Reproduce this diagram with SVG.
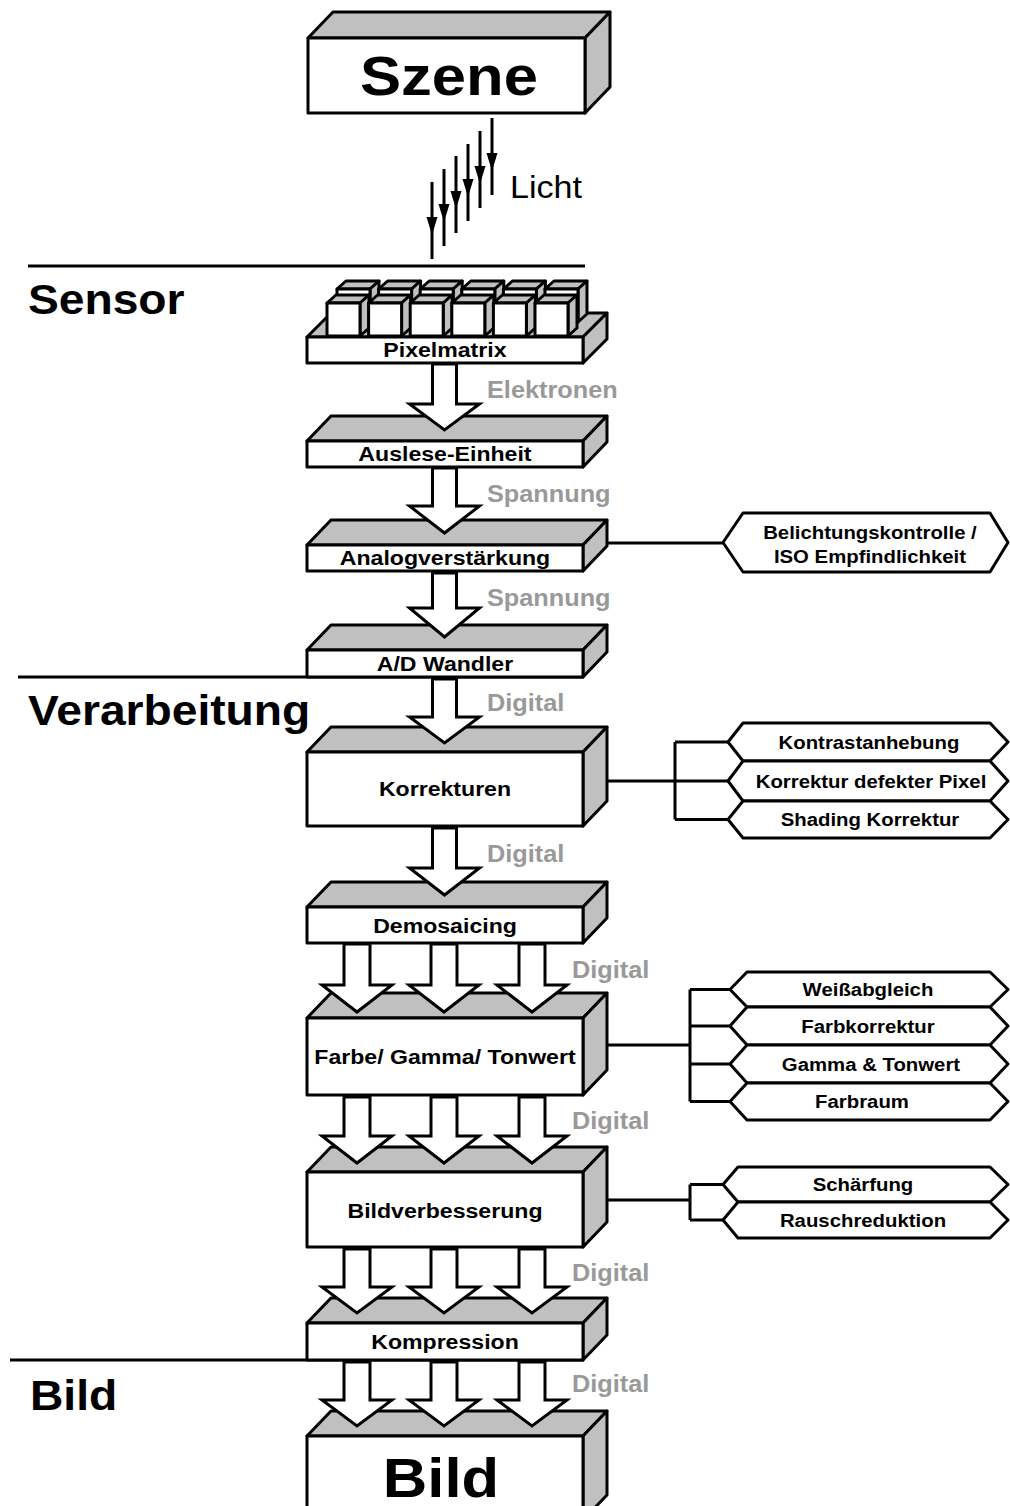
<svg xmlns="http://www.w3.org/2000/svg" xmlns:xlink="http://www.w3.org/1999/xlink" width="1010" height="1506" viewBox="0 0 1010 1506">
  <style>
    text { font-family: "Liberation Sans", Arial, sans-serif; font-weight: bold; fill: #000; transform-box: fill-box; transform: scaleX(1.1); }
    .c { text-anchor: middle; transform-origin: center; }
    .l { transform-origin: left; }
    .reg { font-weight: normal; }
    .box { font-size: 21px; }
    .side { font-size: 18.5px; }
    .sect { font-size: 42px; }
    .flow { font-size: 23px; fill: #999; }
    .face { fill: #fff; stroke: #000; stroke-width: 3; stroke-linejoin: round; }
    .shade { fill: #c0c0c0; stroke: #000; stroke-width: 3; stroke-linejoin: round; }
    .hex { fill: #fff; stroke: #000; stroke-width: 3; stroke-linejoin: round; }
    .wire { fill: none; stroke: #000; stroke-width: 3; }
    .big { fill: #fff; stroke: #000; stroke-width: 3; stroke-linejoin: miter; }
    .rule { stroke: #000; stroke-width: 3; }
  </style>
  <defs>
    <g id="ray">
      <line x1="0" y1="0" x2="0" y2="77" stroke="#000" stroke-width="3"/>
      <polygon points="-5.5,35 5.5,35 0,53" fill="#000"/>
    </g>
    <g id="cube">
      <polygon class="shade" points="0,0 9,-8 42,-8 33,0"/>
      <polygon class="shade" points="33,0 42,-8 42,25 33,33"/>
      <rect class="face" width="33" height="33"/>
    </g>
  </defs>
  <rect width="1010" height="1506" fill="#fff"/>

  <!-- section dividers and headings -->
  <g id="sections">
    <line class="rule" x1="28" y1="266" x2="585" y2="266"/>
    <line class="rule" x1="18" y1="677" x2="583" y2="677"/>
    <line class="rule" x1="10" y1="1360" x2="583" y2="1360"/>
    <text class="sect l" x="28" y="314">Sensor</text>
    <text class="sect l" x="28" y="725">Verarbeitung</text>
    <text class="sect l" x="30" y="1410">Bild</text>
  </g>

  <!-- scene -->
  <g id="node-szene">
    <polygon class="shade" points="308,38 333,12 610,12 585,38"/>
    <polygon class="shade" points="585,38 610,12 610,87 585,113"/>
    <rect class="face" x="308" y="38" width="277" height="75"/>
    <text class="c" x="449" y="95" font-size="56">Szene</text>
  </g>

  <!-- sensor chain -->
  <g id="node-pixelmatrix">
    <polygon class="shade" points="307,337 331,313 607,313 583,337"/>
    <polygon class="shade" points="583,337 607,313 607,339 583,363"/>
    <rect class="face" x="307" y="337" width="276" height="26"/>
    <g id="pixels-back">
      <use xlink:href="#cube" x="337" y="289"/>
      <use xlink:href="#cube" x="378.6" y="289"/>
      <use xlink:href="#cube" x="420.2" y="289"/>
      <use xlink:href="#cube" x="461.8" y="289"/>
      <use xlink:href="#cube" x="503.4" y="289"/>
      <use xlink:href="#cube" x="545" y="289"/>
    </g>
    <g id="pixels-front">
      <use xlink:href="#cube" x="327" y="303"/>
      <use xlink:href="#cube" x="368.6" y="303"/>
      <use xlink:href="#cube" x="410.2" y="303"/>
      <use xlink:href="#cube" x="451.8" y="303"/>
      <use xlink:href="#cube" x="493.4" y="303"/>
      <use xlink:href="#cube" x="535" y="303"/>
    </g>
    <text class="box c" x="445" y="357">Pixelmatrix</text>
  </g>

  <g id="node-auslese">
    <polygon class="shade" points="307,441 331,416 607,416 583,441"/>
    <polygon class="shade" points="583,441 607,416 607,442 583,467"/>
    <rect class="face" x="307" y="441" width="276" height="26"/>
    <text class="box c" x="445" y="461">Auslese-Einheit</text>
  </g>

  <g id="node-analog">
    <polygon class="shade" points="307,545 331,520 607,520 583,545"/>
    <polygon class="shade" points="583,545 607,520 607,546 583,571"/>
    <rect class="face" x="307" y="545" width="276" height="26"/>
    <text class="box c" x="445" y="565">Analogverstärkung</text>
  </g>

  <g id="node-ad">
    <polygon class="shade" points="307,650 331,625 607,625 583,650"/>
    <polygon class="shade" points="583,650 607,625 607,652 583,677"/>
    <rect class="face" x="307" y="650" width="276" height="27"/>
    <text class="box c" x="445" y="671">A/D Wandler</text>
  </g>

  <!-- processing chain -->
  <g id="node-korrekturen">
    <polygon class="shade" points="307,752 331,727 607,727 583,752"/>
    <polygon class="shade" points="583,752 607,727 607,801 583,826"/>
    <rect class="face" x="307" y="752" width="276" height="74"/>
    <text class="box c" x="445" y="796">Korrekturen</text>
  </g>

  <g id="node-demosaicing">
    <polygon class="shade" points="307,907 331,882 607,882 583,907"/>
    <polygon class="shade" points="583,907 607,882 607,918 583,943"/>
    <rect class="face" x="307" y="907" width="276" height="36"/>
    <text class="box c" x="445" y="933">Demosaicing</text>
  </g>

  <g id="node-farbe">
    <polygon class="shade" points="307,1018 331,993 607,993 583,1018"/>
    <polygon class="shade" points="583,1018 607,993 607,1070 583,1095"/>
    <rect class="face" x="307" y="1018" width="276" height="77"/>
    <text class="box c" x="445" y="1064">Farbe/ Gamma/ Tonwert</text>
  </g>

  <g id="node-bildverbesserung">
    <polygon class="shade" points="307,1172 331,1147 607,1147 583,1172"/>
    <polygon class="shade" points="583,1172 607,1147 607,1222 583,1247"/>
    <rect class="face" x="307" y="1172" width="276" height="75"/>
    <text class="box c" x="445" y="1218">Bildverbesserung</text>
  </g>

  <g id="node-kompression">
    <polygon class="shade" points="307,1323 331,1298 607,1298 583,1323"/>
    <polygon class="shade" points="583,1323 607,1298 607,1335 583,1360"/>
    <rect class="face" x="307" y="1323" width="276" height="37"/>
    <text class="box c" x="445" y="1349">Kompression</text>
  </g>

  <g id="node-bild">
    <polygon class="shade" points="307,1436 331,1411 607,1411 583,1436"/>
    <polygon class="shade" points="583,1436 607,1411 607,1495 583,1520"/>
    <rect class="face" x="307" y="1436" width="276" height="84"/>
    <text class="c" x="441" y="1497" font-size="56">Bild</text>
  </g>

  <!-- side steps -->
  <g id="node-belichtung">
    <polygon class="hex" points="723,542.5 743,513 990,513 1008,542.5 990,572 743,572"/>
    <text class="side c" x="870" y="539">Belichtungskontrolle /</text>
    <text class="side c" x="870" y="563">ISO Empfindlichkeit</text>
  </g>

  <g id="node-kontrast">
    <polygon class="hex" points="728,742 743,723 990,723 1008,742 990,761 743,761"/>
    <text class="side c" x="869" y="749">Kontrastanhebung</text>
  </g>
  <g id="node-defekt">
    <polygon class="hex" points="728,781 743,761 990,761 1008,781 990,801 743,801"/>
    <text class="side c" x="871" y="788">Korrektur defekter Pixel</text>
  </g>
  <g id="node-shading">
    <polygon class="hex" points="728,819.5 743,801 990,801 1008,819.5 990,838 743,838"/>
    <text class="side c" x="870" y="826">Shading Korrektur</text>
  </g>

  <g id="node-weiss">
    <polygon class="hex" points="730,989.5 747,972 990,972 1008,989.5 990,1007 747,1007"/>
    <text class="side c" x="868" y="996">Weißabgleich</text>
  </g>
  <g id="node-farbkorrektur">
    <polygon class="hex" points="730,1026 747,1007 990,1007 1008,1026 990,1045 747,1045"/>
    <text class="side c" x="868" y="1033">Farbkorrektur</text>
  </g>
  <g id="node-gamma">
    <polygon class="hex" points="730,1064 747,1045 990,1045 1008,1064 990,1083 747,1083"/>
    <text class="side c" x="871" y="1071">Gamma &amp; Tonwert</text>
  </g>
  <g id="node-farbraum">
    <polygon class="hex" points="730,1101.5 747,1083 990,1083 1008,1101.5 990,1120 747,1120"/>
    <text class="side c" x="862" y="1108">Farbraum</text>
  </g>

  <g id="node-schaerfung">
    <polygon class="hex" points="723,1184.5 738,1167 990,1167 1008,1184.5 990,1202 738,1202"/>
    <text class="side c" x="863" y="1191">Schärfung</text>
  </g>
  <g id="node-rausch">
    <polygon class="hex" points="723,1220 738,1202 990,1202 1008,1220 990,1238 738,1238"/>
    <text class="side c" x="863" y="1227">Rauschreduktion</text>
  </g>

  <!-- connectors -->
  <g id="connectors">
    <!-- incoming light -->
    <use xlink:href="#ray" x="432" y="182"/>
    <use xlink:href="#ray" x="444" y="169"/>
    <use xlink:href="#ray" x="456" y="156"/>
    <use xlink:href="#ray" x="468" y="144"/>
    <use xlink:href="#ray" x="480" y="131"/>
    <use xlink:href="#ray" x="492" y="118"/>
    <text class="l reg" x="510" y="198" font-size="31">Licht</text>

    <!-- single block arrows -->
    <path class="big" d="M432.5,364 H456.5 V404 H479.5 L444.5,430 L409.5,404 H432.5 Z"/>
    <path class="big" d="M432.5,468 H456.5 V506 H479.5 L444.5,533 L409.5,506 H432.5 Z"/>
    <path class="big" d="M432.5,573 H456.5 V608 H479.5 L444.5,637 L409.5,608 H432.5 Z"/>
    <path class="big" d="M432.5,679 H456.5 V717 H479.5 L444.5,743 L409.5,717 H432.5 Z"/>
    <path class="big" d="M432.5,828 H456.5 V868 H479.5 L444.5,895 L409.5,868 H432.5 Z"/>

    <!-- triple block arrows -->
    <path class="big" d="M344,944 H370 V985 H392 L357,1012 L322,985 H344 Z"/>
    <path class="big" d="M431,944 H457 V985 H479 L444,1012 L409,985 H431 Z"/>
    <path class="big" d="M519,944 H545 V985 H567 L532,1012 L497,985 H519 Z"/>

    <path class="big" d="M344,1097 H370 V1136 H392 L357,1163 L322,1136 H344 Z"/>
    <path class="big" d="M431,1097 H457 V1136 H479 L444,1163 L409,1136 H431 Z"/>
    <path class="big" d="M519,1097 H545 V1136 H567 L532,1163 L497,1136 H519 Z"/>

    <path class="big" d="M344,1249 H370 V1287 H392 L357,1313 L322,1287 H344 Z"/>
    <path class="big" d="M431,1249 H457 V1287 H479 L444,1313 L409,1287 H431 Z"/>
    <path class="big" d="M519,1249 H545 V1287 H567 L532,1313 L497,1287 H519 Z"/>

    <path class="big" d="M344,1362 H370 V1400 H392 L357,1426 L322,1400 H344 Z"/>
    <path class="big" d="M431,1362 H457 V1400 H479 L444,1426 L409,1400 H431 Z"/>
    <path class="big" d="M519,1362 H545 V1400 H567 L532,1426 L497,1400 H519 Z"/>

    <!-- signal labels -->
    <text class="flow l" x="487" y="398">Elektronen</text>
    <text class="flow l" x="487" y="502">Spannung</text>
    <text class="flow l" x="487" y="606">Spannung</text>
    <text class="flow l" x="487" y="711">Digital</text>
    <text class="flow l" x="487" y="862">Digital</text>
    <text class="flow l" x="572" y="978">Digital</text>
    <text class="flow l" x="572" y="1129">Digital</text>
    <text class="flow l" x="572" y="1281">Digital</text>
    <text class="flow l" x="572" y="1392">Digital</text>

    <!-- side branches -->
    <path class="wire" d="M607,543 H723"/>
    <path class="wire" d="M607,781 H675 M675,742 V819.5 M675,742 H728 M675,781 H728 M675,819.5 H728"/>
    <path class="wire" d="M607,1045 H690 M690,989.5 V1101.5 M690,989.5 H730 M690,1026 H730 M690,1064 H730 M690,1101.5 H730"/>
    <path class="wire" d="M607,1200 H690 M690,1184.5 V1220 M690,1184.5 H723 M690,1220 H723"/>
  </g>
</svg>
